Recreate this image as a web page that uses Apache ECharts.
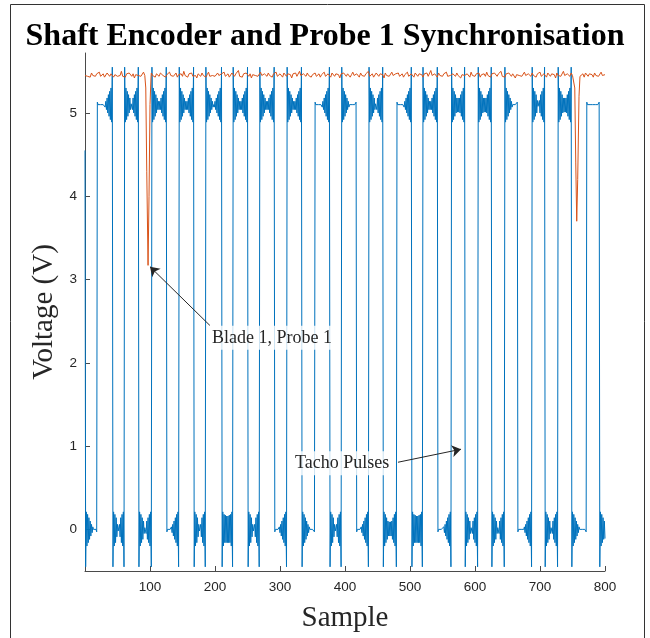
<!DOCTYPE html>
<html><head><meta charset="utf-8">
<script src="https://cdn.jsdelivr.net/npm/echarts@6/dist/echarts.min.js"></script>
<style>html,body{margin:0;padding:0;background:#fff}#c{width:650px;height:638px}</style>
</head><body><div id="c"></div>
<script>
// ---------- DATA ----------
const titleText = 'Shaft Encoder and Probe 1 Synchronisation';
const xTicks = [100, 200, 300, 400, 500, 600, 700, 800];
const yTicks = [0, 1, 2, 3, 4, 5];

// Tacho (blue): edge sample positions, alternating low/high segments
const tachoStart = 4.55;          // value of the first sample
const tachoLow = 0;
const tachoHigh = 5.1;
const tachoEdges = [1,19,43,61,83,103,126,145,168,186,211,228,251,269,292,311,334,354,377,395,
                    418,437,459,480,503,520,543,564,585,605,626,646,666,688,708,728,749,772,792,800];
// ringing present on the left / right end of each segment (low, high, low, ...)
const ringLeft  = [1,0,1,1,1,1,0,1,1,1,1,1,1,1,0,1,1,0,1,1,0,1,1,0,1,1,0,1,1,1,1,1,0,1,1,1,1,0,1];
const ringRight = [0,1,1,1,1,1,1,1,1,1,1,1,1,1,1,1,0,1,1,0,1,1,1,1,1,1,1,1,1,1,1,0,1,1,1,1,0,0,0];
// ringing offsets read near an edge (first = overshoot at the edge sample)
const ringOffsets = [0.45,-0.21,0.2,-0.18,0.16,-0.14,0.12,-0.1,0.08,-0.06,0.04,-0.03];
const flatOffsets = [0.03];

// Probe 1 (orange): values every 2 samples
const probeStep = 2;
const probeNoise = [
5.45,5.47,5.44,5.46,5.43,5.48,5.45,5.46,5.44,5.47,5.45,5.49,5.44,5.46,5.47,5.43,5.45,5.48,5.46,5.44,
5.47,5.45,5.43,5.46,5.48,5.44,5.46,5.45,5.50,5.44,5.46,5.43,5.47,5.45,5.48,5.46,5.44,5.47,5.42,5.46,
5.48,5.45,5.47,5.44,5.46,5.49,5.45,5.43,5.47,5.46,5.44,5.48,5.45,5.46,5.43,5.47,5.45,5.44,5.48,5.46,
5.45,5.47,5.43,5.46,5.44,5.49,5.45,5.47,5.44,5.46,5.48,5.43,5.46,5.45,5.47,5.44,5.50,5.45,5.46,5.43,
5.47,5.45,5.48,5.44,5.46,5.45,5.42,5.47,5.46,5.44,5.48,5.45,5.47,5.43,5.46,5.49,5.44,5.46,5.45,5.47,
5.44,5.46,5.48,5.45,5.43,5.47,5.45,5.49,5.44,5.46,5.47,5.43,5.45,5.48,5.46,5.44,5.47,5.45,5.51,5.44,
5.46,5.43,5.47,5.45,5.48,5.46,5.44,5.47,5.42,5.46,5.48,5.45,5.47,5.44,5.46,5.49,5.45,5.43,5.47,5.46,
5.44,5.48,5.45,5.46,5.43,5.47,5.45,5.49,5.44,5.46,5.47,5.45,5.43,5.48,5.46,5.44,5.47,5.45,5.46,5.42,
5.47,5.45,5.48,5.44,5.46,5.50,5.45,5.43,5.47,5.46,5.44,5.48,5.45,5.47,5.43,5.46,5.45,5.48,5.44,5.46,
5.47,5.43,5.46,5.45,5.49,5.44,5.46,5.47,5.45,5.43,5.48,5.46,5.44,5.47,5.45,5.46,5.42,5.47,5.45,5.48,
5.46,5.44,5.47,5.45,5.43,5.46,5.49,5.45,5.44,5.47,5.46,5.43,5.48,5.45,5.46,5.44,5.47,5.45,5.50,5.44,
5.46,5.47,5.43,5.45,5.48,5.46,5.44,5.47,5.45,5.46,5.42,5.48,5.45,5.47,5.44,5.46,5.49,5.45,5.43,5.47,
5.45,5.48,5.44,5.46,5.47,5.43,5.46,5.45,5.49,5.44,5.46,5.47,5.45,5.43,5.48,5.46,5.44,5.47,5.45,5.46,
5.43,5.47,5.45,5.48,5.44,5.46,5.51,5.45,5.44,5.47,5.46,5.43,5.48,5.45,5.46,5.44,5.47,5.45,5.49,5.44,
5.46,5.45,5.43,5.47,5.46,5.44,5.48,5.45,5.47,5.42,5.46,5.48,5.45,5.44,5.47,5.46,5.43,5.49,5.45,5.46,
5.44,5.47,5.45,5.48,5.43,5.46,5.45,5.47,5.44,5.49,5.45,5.46,5.43,5.47,5.45,5.48,5.46,5.44,5.47,5.45,
5.50,5.44,5.46,5.43,5.47,5.45,5.48,5.46,5.44,5.47,5.45,5.42,5.46,5.48,5.45,5.47,5.44,5.46,5.49,5.45,
5.43,5.47,5.46,5.44,5.48,5.45,5.46,5.43,5.47,5.45,5.49,5.44,5.46,5.47,5.45,5.43,5.48,5.46,5.44,5.47,
5.45,5.46,5.42,5.48,5.45,5.47,5.44,5.46,5.50,5.45,5.43,5.47,5.46,5.44,5.48,5.45,5.47,5.43,5.46,5.49,
5.44,5.46,5.45,5.47,5.43,5.48,5.46,5.44,5.47,5.45,5.46,5.43,5.48,5.45,5.47,5.44,5.46,5.49,5.45,5.47,
5.46];
const probeDip1 = [[92,5.45],[93.5,5.3],[95,4.3],[97,3.17],[98.5,4.0],[100,5.1],[101.5,5.42]];
const probeDip2 = [[752,5.44],[753.5,5.3],[755,4.4],[756.5,3.7],[758,4.2],[760,5.2],[761.5,5.44]];

// Annotations (data coordinates)
const bladeLabel = {name: 'Blade 1, Probe 1', at: [187.7, 2.30], from: [192.3, 2.447], to: [100, 3.154]};
const tachoLabel = {name: 'Tacho Pulses', at: [315.4, 0.794], from: [481.5, 0.806], to: [578.5, 0.962]};

// ---------- BUILD ----------
const tacho = [[0, tachoStart]];
for (let s = 0; s < tachoEdges.length - 1; s++) {
  const a = tachoEdges[s];
  const last = (s === tachoEdges.length - 2);
  const b = last ? tachoEdges[s + 1] : tachoEdges[s + 1] - 1;
  const isLow = s % 2 === 0;
  const level = isLow ? tachoLow : tachoHigh;
  const sign = isLow ? -1 : 1;
  const tL = ringLeft[s] ? ringOffsets : flatOffsets;
  const tR = ringRight[s] ? ringOffsets : flatOffsets;
  for (let k = a; k <= b; k++) {
    const off = (tL[k - a] || 0) + (tR[b - k] || 0);
    tacho.push([k, +(level + sign * off).toFixed(3)]);
  }
}

const probe = [];
probeNoise.forEach((v, i) => {
  const x = i * probeStep;
  if (x >= probeDip1[0][0] && x <= probeDip1[probeDip1.length - 1][0]) return;
  if (x >= probeDip2[0][0] && x <= probeDip2[probeDip2.length - 1][0]) return;
  probe.push([x, v]);
});
probeDip1.concat(probeDip2).forEach(p => probe.push(p));
probe.sort((p, q) => p[0] - q[0]);

const serif = 'Liberation Serif';
const sans = 'Liberation Sans';
const axisCol = '#4a4a4a';
const labelCol = '#262626';

const chart = echarts.init(document.getElementById('c'), null, {renderer: 'canvas'});
chart.setOption({
  animation: false,
  backgroundColor: '#ffffff',
  title: {
    text: titleText, left: 'center', top: 21, padding: 0,
    textStyle: {fontFamily: serif, fontWeight: 'bold', fontSize: 32, color: '#000'}
  },
  graphic: [{
    type: 'rect', silent: true, z: -1,
    shape: {x: 10.5, y: 4.5, width: 634, height: 700},
    style: {fill: 'none', stroke: '#333', lineWidth: 1}
  }],
  grid: {left: 85, right: 45, top: 53, bottom: 66, containLabel: false},
  xAxis: {
    type: 'value', min: 0, max: 800, interval: 100,
    name: 'Sample', nameLocation: 'middle', nameGap: 33,
    nameTextStyle: {fontFamily: serif, fontSize: 29, color: labelCol},
    axisLine: {show: true, onZero: false, lineStyle: {color: axisCol, width: 1}},
    axisTick: {show: true, inside: true, length: 5, customValues: xTicks, lineStyle: {color: axisCol}},
    axisLabel: {show: true, customValues: xTicks, margin: 9, fontFamily: sans, fontSize: 13.5, color: labelCol},
    splitLine: {show: false}
  },
  yAxis: {
    type: 'value', min: -0.5, max: 5.72,
    name: 'Voltage (V)', nameLocation: 'middle', nameGap: 26, nameRotate: 90,
    nameTextStyle: {fontFamily: serif, fontSize: 29, color: labelCol},
    axisLine: {show: true, onZero: false, lineStyle: {color: axisCol, width: 1}},
    axisTick: {show: true, inside: true, length: 5, customValues: yTicks, lineStyle: {color: axisCol}},
    axisLabel: {show: true, customValues: yTicks, margin: 8, fontFamily: sans, fontSize: 13.5, color: labelCol},
    splitLine: {show: false}
  },
  series: [
    {
      name: 'Tacho', type: 'line', data: tacho, z: 2,
      showSymbol: false, symbol: 'none', sampling: null, silent: true,
      lineStyle: {color: '#0072BD', width: 1}
    },
    {
      name: 'Probe 1', type: 'line', data: probe, z: 3,
      showSymbol: false, symbol: 'none', silent: true,
      lineStyle: {color: '#D95319', width: 1},
      markLine: {
        silent: true, animation: false,
        symbol: ['none', 'arrow'], symbolSize: 9,
        lineStyle: {color: '#262626', width: 1, type: 'solid'},
        label: {show: false},
        data: [
          [{coord: bladeLabel.from}, {coord: bladeLabel.to}],
          [{coord: tachoLabel.from}, {coord: tachoLabel.to}]
        ]
      },
      markPoint: {
        silent: true, animation: false,
        symbol: 'circle', symbolSize: 0,
        label: {
          show: true, position: 'right', distance: 0, formatter: '{b}',
          fontFamily: serif, fontSize: 18, color: '#262626',
          backgroundColor: 'rgba(255,255,255,0.8)', padding: [3, 5, 3, 5]
        },
        data: [
          {name: bladeLabel.name, coord: bladeLabel.at},
          {name: tachoLabel.name, coord: tachoLabel.at}
        ]
      }
    }
  ]
});
</script></body></html>
